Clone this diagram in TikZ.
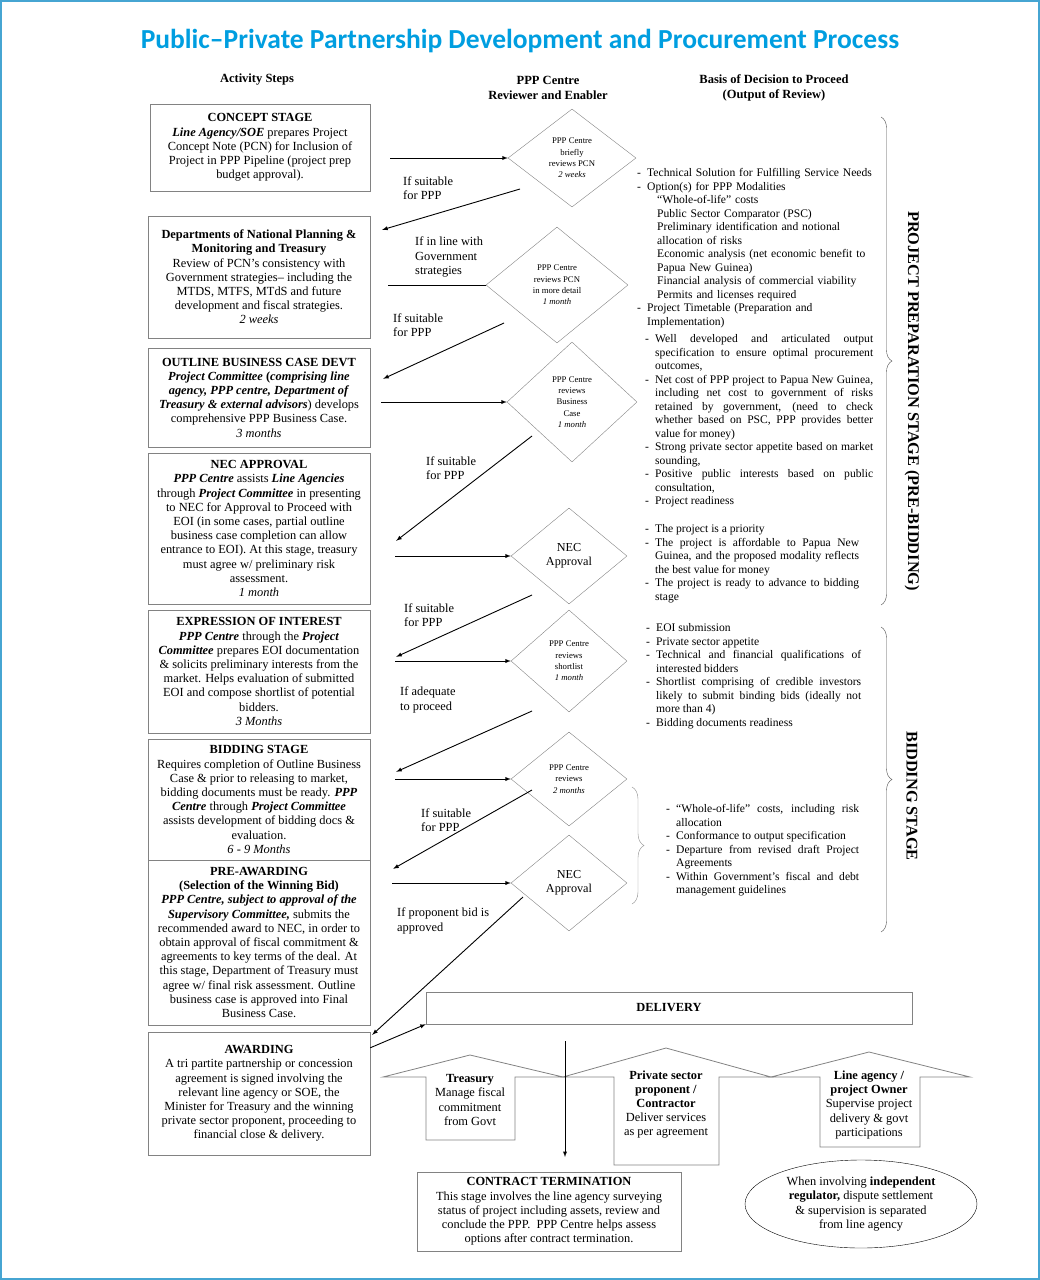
\documentclass[tikz,border=0pt]{standalone}
\usepackage{fontspec}
\setmainfont{Liberation Serif}
\newfontfamily\titlefont{Carlito}
\usetikzlibrary{shapes.geometric,decorations.pathreplacing}

\definecolor{titleblue}{RGB}{0,158,224}
\definecolor{frameblue}{RGB}{70,165,210}
\definecolor{edgegrey}{RGB}{130,130,130}

\newcommand{\basisitem}[1]{\par\noindent\hangindent=10pt\hangafter=1\makebox[10pt][l]{-}#1\par}
\newcommand{\basissub}[1]{\par\noindent\hangindent=20pt\hangafter=0 #1\par}

\begin{document}
\begin{tikzpicture}
        [
            x = 1pt, y = -1pt,
            every node/.style = {font=\fontsize{12.4}{14.2}\selectfont, inner sep=0pt},
            stepbox/.style    = {shape=rectangle, draw=edgegrey, align=center, minimum width=222pt},
            review/.style     = {shape=diamond, draw=edgegrey, align=center, font=\fontsize{8.7}{11.4}\selectfont},
            approval/.style   = {review, font=\fontsize{12.2}{14.2}\selectfont},
            heading/.style    = {align=center, font=\fontsize{12.5}{15}\selectfont\bfseries},
            condition/.style  = {anchor=west, align=left},
            basis/.style      = {anchor=north west, font=\fontsize{11.6}{13.5}\selectfont},
            stage/.style      = {rotate=-90, font=\fontsize{16.3}{18}\selectfont\bfseries},
            stagebrace/.style = {draw=black!70, decorate, decoration={brace, amplitude=11pt}},
            upshape/.style    = {draw=edgegrey, line width=0.8pt},
            flow/.style       = {draw, -latex, line width=0.9pt},
        ]
        \useasboundingbox (0,0) rectangle (1040,1280);
        \draw [frameblue, line width=2pt] (1,1) rectangle (1039,1279);

        \node [font=\titlefont\bfseries\fontsize{27.5}{30}\selectfont, text=titleblue, anchor=base] (title) at (520,48)
            {Public\textendash Private Partnership Development and Procurement Process};

        \node [heading] (hsteps)  at (257,80)   {Activity Steps};
        \node [heading] (hreview) at (548,87.5) {PPP Centre\\Reviewer and Enabler};
        \node [heading] (hbasis)  at (774,87.5) {Basis of Decision to Proceed\\(Output of Review)};

        % activity steps
        \node [stepbox, minimum width=220pt, minimum height=87pt] (concept) at (260,147.5)
            {\textbf{CONCEPT STAGE}\\ \textbf{\textit{Line Agency/SOE}} prepares Project\\ Concept Note (PCN) for Inclusion of\\
             Project in PPP Pipeline (project prep\\ budget approval).};
        \node [stepbox, minimum height=122pt] (dept) at (259,277)
            {\textbf{Departments of National Planning \&}\\ \textbf{Monitoring and Treasury}\\ Review of PCN's consistency with\\
             Government strategies-- including the\\ MTDS, MTFS, MTdS and future\\ development and fiscal strategies.\\ \textit{2 weeks}};
        \node [stepbox, minimum height=99pt] (outline) at (259,397.5)
            {\textbf{OUTLINE BUSINESS CASE DEVT}\\ \textbf{\textit{Project Committee} (\textit{comprising line}}\\
             \textbf{\textit{agency, PPP centre, Department of}}\\ \textbf{\textit{Treasury \& external advisors}}) develops\\
             comprehensive PPP Business Case.\\ \textit{3 months}};
        \node [stepbox, minimum height=151pt] (nec) at (259,528.5)
            {\textbf{NEC APPROVAL}\\ \textbf{\textit{PPP Centre}} assists \textbf{\textit{Line Agencies}}\\
             through \textbf{\textit{Project Committee}} in presenting\\ to NEC for Approval to Proceed with\\
             EOI (in some cases, partial outline\\ business case completion can allow\\ entrance to EOI). At this stage, treasury\\
             must agree w/ preliminary risk\\ assessment.\\ \textit{1 month}};
        \node [stepbox, minimum height=123pt] (eoi) at (259,671.5)
            {\textbf{EXPRESSION OF INTEREST}\\ \textbf{\textit{PPP Centre}} through the \textbf{\textit{Project}}\\
             \textbf{\textit{Committee}} prepares EOI documentation\\ \& solicits preliminary interests from the\\
             market. Helps evaluation of submitted\\ EOI and compose shortlist of potential\\ bidders.\\ \textit{3 Months}};
        \node [stepbox, minimum height=121pt] (bidding) at (259,799.5)
            {\textbf{BIDDING STAGE}\\ Requires completion of Outline Business\\ Case \& prior to releasing to market,\\
             bidding documents must be ready. \textbf{\textit{PPP}}\\ \textbf{\textit{Centre}} through \textbf{\textit{Project Committee}}\\
             assists development of bidding docs \&\\ evaluation.\\ \textit{6 - 9 Months}};
        \node [stepbox, minimum height=165pt] (preaward) at (259,942.5)
            {\textbf{PRE-AWARDING}\\ \textbf{(Selection of the Winning Bid)}\\ \textbf{\textit{PPP Centre, subject to approval of the}}\\
             \textbf{\textit{Supervisory Committee,}} submits the\\ recommended award to NEC, in order to\\
             obtain approval of fiscal commitment \&\\ agreements to key terms of the deal. At\\
             this stage, Department of Treasury must\\ agree w/ final risk assessment. Outline\\
             business case is approved into Final\\ Business Case.};
        \node [stepbox, minimum height=123pt] (award) at (259,1093.5)
            {\textbf{AWARDING}\\ A tri partite partnership or concession\\ agreement is signed involving the\\
             relevant line agency or SOE, the\\ Minister for Treasury and the winning\\
             private sector proponent, proceeding to\\ financial close \& delivery.};

        % reviews
        \node [review, minimum width=128pt, minimum height=98pt]  (d1) at (572,158) {PPP Centre\\briefly\\reviews PCN\\\textit{2 weeks}};
        \node [review, minimum width=142pt, minimum height=116pt] (d2) at (557,285) {PPP Centre\\reviews PCN\\in more detail\\\textit{1 month}};
        \node [review, minimum width=130pt, minimum height=120pt] (d3) at (572,402) {PPP Centre\\reviews\\Business\\Case\\\textit{1 month}};
        \node [approval, minimum width=116pt, minimum height=96pt] (d4) at (569,556) {NEC\\Approval};
        \node [review, minimum width=116pt, minimum height=102pt] (d5) at (569,661) {PPP Centre\\reviews\\shortlist\\\textit{1 month}};
        \node [review, minimum width=116pt, minimum height=94pt]  (d6) at (569,779) {PPP Centre\\reviews\\\textit{2 months}};
        \node [approval, minimum width=116pt, minimum height=96pt] (d7) at (569,883) {NEC\\Approval};

        \draw [flow] (d1.west -| concept.east) ++(20,0) -- (d1.west);
        \draw [line width=0.9pt] (d2.west -| dept.east) ++(18,0) -- (d2.west);
        \draw [flow] (d3.west -| outline.east) ++(11,0) -- (d3.west);
        \draw [flow] (d4.west -| nec.east) ++(25,0) -- (d4.west);
        \draw [flow] (d5.west -| eoi.east) ++(25,0) -- (d5.west);
        \draw [flow] (d6.west -| bidding.east) ++(25,0) -- (d6.west);
        \draw [flow] (d7.west -| preaward.east) ++(22,0) -- (d7.west);

        \draw [flow] ([shift={(-52,31)}]d1.center) -- ([shift={(12,14)}]dept.north east);
        \draw [flow] ([shift={(-53,38)}]d2.center) -- ([shift={(13,31)}]outline.north east);
        \draw [flow] ([shift={(-40,34)}]d3.center) -- ([shift={(26,88)}]nec.north east);
        \draw [flow] ([shift={(-37,39)}]d4.center) -- ([shift={(26,47)}]eoi.north east);
        \draw [flow] ([shift={(-37,50)}]d5.center) -- ([shift={(26,33)}]bidding.north east);
        \draw [flow] ([shift={(-37,11)}]d6.center) -- ([shift={(23,9)}]preaward.north east);
        \draw [flow] ([shift={(-46,14)}]d7.center) -- ([shift={(2,3)}]award.north east);

        \node [condition] (if1) at (403,188) {If suitable\\for PPP};
        \node [condition] (if2) at (415,257) {If in line with\\Government\\strategies};
        \node [condition] (if3) at (393,325) {If suitable\\for PPP};
        \node [condition] (if4) at (426,468) {If suitable\\for PPP};
        \node [condition] (if5) at (404,615) {If suitable\\for PPP};
        \node [condition] (if6) at (400,700) {If adequate\\to proceed};
        \node [condition] (if7) at (421,820) {If suitable\\for PPP};
        \node [condition] (if8) at (397,921) {If proponent bid is\\approved};

        % basis of decision
        \node [basis, text width=250pt, align=left] (basisA) at (637,163) {%
            \basisitem{Technical Solution for Fulfilling Service Needs}
            \basisitem{Option(s) for PPP Modalities}
            \basissub{``Whole-of-life'' costs}
            \basissub{Public Sector Comparator (PSC)}
            \basissub{Preliminary identification and notional\linebreak allocation of risks}
            \basissub{Economic analysis (net economic benefit to\linebreak Papua New Guinea)}
            \basissub{Financial analysis of commercial viability}
            \basissub{Permits and licenses required}
            \basisitem{Project Timetable (Preparation and\linebreak Implementation)}};
        \node [basis, text width=228pt, align=justify] (basisB) at (645,329) {%
            \basisitem{Well developed and articulated output\linebreak specification to ensure optimal procurement\linebreak outcomes,}
            \basisitem{Net cost of PPP project to Papua New Guinea,\linebreak including net cost to government of risks\linebreak
                retained by government, (need to check\linebreak whether based on PSC, PPP provides better\linebreak value for money)}
            \basisitem{Strong private sector appetite based on market\linebreak sounding,}
            \basisitem{Positive public interests based on public\linebreak consultation,}
            \basisitem{Project readiness}};
        \node [basis, text width=214pt, align=justify] (basisC) at (645,519) {%
            \basisitem{The project is a priority}
            \basisitem{The project is affordable to Papua New\linebreak Guinea, and the proposed modality reflects\linebreak the best value for money}
            \basisitem{The project is ready to advance to bidding\linebreak stage}};
        \node [basis, text width=215pt, align=justify] (basisD) at (646,618) {%
            \basisitem{EOI submission}
            \basisitem{Private sector appetite}
            \basisitem{Technical and financial qualifications of\linebreak interested bidders}
            \basisitem{Shortlist comprising of credible investors\linebreak likely to submit binding bids (ideally not\linebreak more than 4)}
            \basisitem{Bidding documents readiness}};
        \node [basis, text width=193pt, align=justify] (basisE) at (666,799) {%
            \basisitem{``Whole-of-life'' costs, including risk\linebreak allocation}
            \basisitem{Conformance to output specification}
            \basisitem{Departure from revised draft Project\linebreak Agreements}
            \basisitem{Within Government's fiscal and debt\linebreak management guidelines}};

        \draw [stagebrace] (881,117) -- (881,605);
        \draw [stagebrace] (881,627) -- (881,932);
        \draw [stagebrace, draw=black!45, decoration={amplitude=12pt}] (632,787) -- (632,904);
        \node [stage] (prepstage) at (912,401) {PROJECT PREPARATION STAGE (PRE-BIDDING)};
        \node [stage] (bidstage)  at (912,796) {BIDDING STAGE};

        % delivery
        \node [stepbox, minimum width=486pt, minimum height=32pt, font=\fontsize{12.4}{14.2}\selectfont\bfseries] (delivery) at (669,1008) {DELIVERY};
        \draw [flow] ([shift={(0,16)}]award.north east) -- (delivery.south west);

        \draw [upshape] (426,1140) -- (426,1077) -- (383,1077) -- (470,1055) -- (563,1077) -- (515,1077) -- (515,1140) -- cycle;
        \draw [upshape] (614,1165) -- (614,1077) -- (563,1077) -- (666,1048) -- (771,1077) -- (719,1077) -- (719,1165) -- cycle;
        \draw [upshape] (820,1147) -- (820,1077) -- (771,1077) -- (869,1052) -- (970,1077) -- (920,1077) -- (920,1147) -- cycle;
        \node [align=center] (treasury)   at (470,1100)   {\textbf{Treasury}\\Manage fiscal\\commitment\\from Govt};
        \node [align=center] (contractor) at (666,1104.5) {\textbf{Private sector}\\\textbf{proponent /}\\\textbf{Contractor}\\Deliver services\\as per agreement};
        \node [align=center] (owner)      at (869,1105)   {\textbf{Line agency /}\\\textbf{project Owner}\\Supervise project\\delivery \& govt\\participations};

        \coordinate (split)    at (565,1041);
        \coordinate (splitend) at (565,1157);
        \draw [flow] (split) -- (splitend);

        \node [stepbox, minimum width=264pt, minimum height=79pt] (termination) at (549,1211.5)
            {\textbf{CONTRACT TERMINATION}\\ This stage involves the line agency surveying\\ status of project including assets, review and\\
             conclude the PPP.\ \ PPP Centre helps assess\\ options after contract termination.};
        \node [shape=ellipse, draw, align=center, minimum width=232pt, minimum height=88pt] (regulator) at (861,1204)
            {When involving \textbf{independent}\\ \textbf{regulator,} dispute settlement\\ \& supervision is separated\\ from line agency};
\end{tikzpicture}
\end{document}
